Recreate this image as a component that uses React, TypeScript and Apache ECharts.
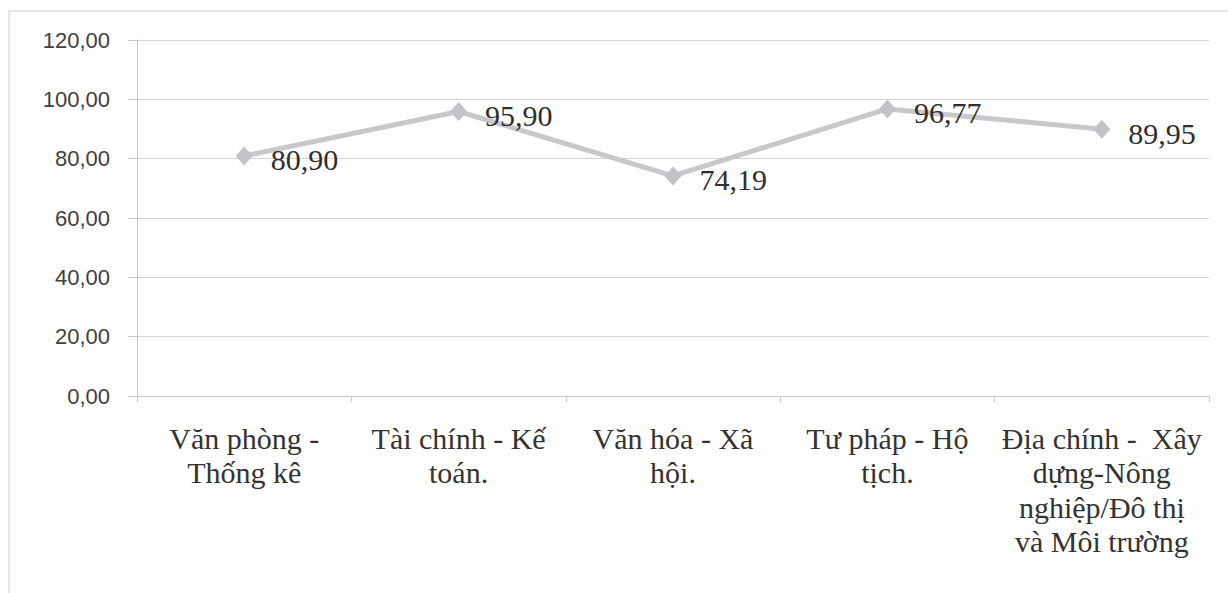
import React, { useEffect, useRef } from "react";
import * as echarts from "echarts";

const categories: string[] = [
  "Văn phòng -\nThống kê",
  "Tài chính - Kế\ntoán.",
  "Văn hóa - Xã\nhội.",
  "Tư pháp - Hộ\ntịch.",
  "Địa chính -  Xây\ndựng-Nông\nnghiệp/Đô thị\nvà Môi trường",
];
const values: number[] = [80.9, 95.9, 74.19, 96.77, 89.95];
const yMin = 0;
const yMax = 120;
const yInterval = 20;

const fmt = (v: number) => v.toFixed(2).replace(".", ",");
const SERIF = "'Liberation Serif', 'Times New Roman', 'DejaVu Serif', serif";

export default function App() {
  const ref = useRef<HTMLDivElement>(null);
  useEffect(() => {
    if (!ref.current) return;
    const chart = echarts.init(ref.current, null, { renderer: "svg" });
    chart.setOption({
      animation: false,
      backgroundColor: "#ffffff",
      graphic: [
        {
          type: "rect",
          shape: { x: 9, y: 11, width: 1240, height: 600 },
          style: { fill: "none", stroke: "#cfcfcf", lineWidth: 1 },
          silent: true,
          z: -1,
        },
      ],
      grid: { left: 137, right: 19, top: 40, bottom: 197, containLabel: false },
      xAxis: {
        type: "category",
        data: categories,
        boundaryGap: true,
        axisLine: { show: true, lineStyle: { color: "#c8c8c8", width: 1 } },
        axisTick: { show: true, length: 6, lineStyle: { color: "#c8c8c8" } },
        axisLabel: {
          interval: 0,
          margin: 25,
          color: "#333333",
          fontFamily: SERIF,
          fontSize: 30,
          lineHeight: 34.5,
        },
        splitLine: { show: false },
      },
      yAxis: {
        type: "value",
        min: yMin,
        max: yMax,
        interval: yInterval,
        axisLine: { show: true, lineStyle: { color: "#c8c8c8", width: 1 } },
        axisTick: { show: true, length: 9, lineStyle: { color: "#c8c8c8" } },
        axisLabel: {
          margin: 27,
          color: "#404040",
          fontFamily: "'Liberation Sans', Arial, sans-serif",
          fontSize: 22,
          formatter: (v: number) => fmt(v),
        },
        splitLine: { show: true, lineStyle: { color: "#d4d4d4", width: 1 } },
      },
      series: [
        {
          type: "line",
          data: values,
          symbol: "diamond",
          symbolSize: [17, 19],
          itemStyle: { color: "#c2c2c8" },
          lineStyle: { color: "#c8c8cc", width: 5 },
          label: {
            show: true,
            position: "right",
            distance: 18,
            offset: [0, 4],
            color: "#2e2e2e",
            fontFamily: SERIF,
            fontSize: 30,
            formatter: (p: any) => fmt(p.value),
          },
        },
      ],
    });
    return () => chart.dispose();
  }, []);
  return (
    <div
      ref={ref}
      style={{ position: "fixed", left: 0, top: 0, width: 1228, height: 593 }}
    />
  );
}
